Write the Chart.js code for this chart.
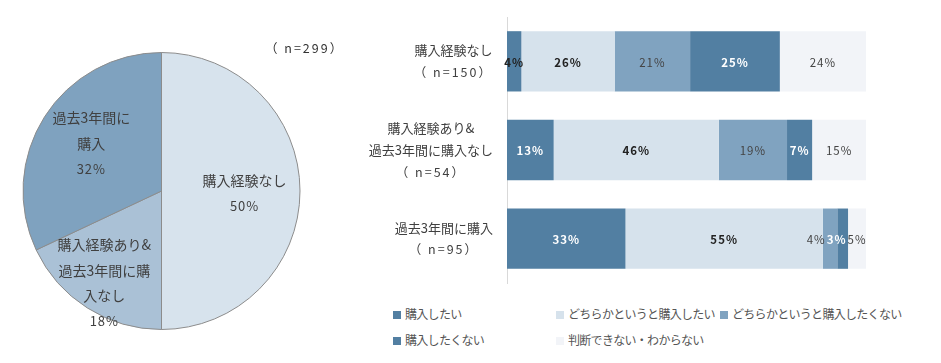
<!DOCTYPE html>
<html>
<head>
<meta charset="utf-8">
<script src="https://cdn.jsdelivr.net/npm/chart.js@4"></script>
<style>
  body { margin: 0; background: #fff; font-family: "Noto Sans CJK JP", sans-serif; }
  #wrap { position: relative; width: 941px; height: 363px; overflow: hidden; }
  #pie { position: absolute; left: 0; top: 0; }
  #bars { position: absolute; left: 360px; top: 0; }
  #total { position: absolute; left: 265px; top: 38px; font-size: 12.5px; color: #333; letter-spacing: 2px; }
  #legend { position: absolute; left: 393px; top: 305px; display: grid; grid-template-columns: 163px 164px 200px; row-gap: 8px; }
  #legend div { font-size: 12px; letter-spacing: -0.7px; color: #555; height: 18px; line-height: 18px; white-space: nowrap; }
  #legend span { display: inline-block; width: 8px; height: 8px; margin-right: 4px; vertical-align: 0px; }
</style>
</head>
<body>
<div id="wrap">
  <canvas id="pie" width="330" height="363"></canvas>
  <div id="total">（ n=299）</div>
  <canvas id="bars" width="581" height="300"></canvas>
  <div id="legend"></div>
</div>
<script>
// pie: all respondents
const pieCategories = ['購入経験なし', '購入経験あり&過去3年間に購入なし', '過去3年間に購入'];
const pieValues = [50, 18, 32];
const pieColors = ['#d7e3ed', '#aac1d6', '#7fa2bf'];

// bars: intention by group
const barCategories = [['購入経験なし'], ['購入経験あり&', '過去3年間に購入なし'], ['過去3年間に購入']];
const barN = [150, 54, 95];
const answerLabels = ['購入したい', 'どちらかというと購入したい', 'どちらかというと購入したくない', '購入したくない', '判断できない・わからない'];
const wantValues = [4, 13, 33];
const ratherWantValues = [26, 46, 55];
const ratherNotValues = [21, 19, 4];
const notWantValues = [25, 7, 3];
const unknownValues = [24, 15, 5];
const answerColors = ['#527fa2', '#d6e2ec', '#80a3c0', '#527fa2', '#f2f4f8'];

const jp = '"Noto Sans CJK JP", "Noto Sans", sans-serif';

function wrap(str, n) {
  if (!n) return [str];
  const out = [];
  for (let i = 0; i < str.length; i += n) out.push(str.slice(i, i + n));
  return out;
}

const pieLabelPlugin = {
  id: 'pieLabels',
  afterDatasetsDraw(chart) {
    const ctx = chart.ctx;
    const wraps = [0, 7, 6];
    const rf = [0.6, 0.77, 0.6];
    const dy = [2, 2, -3];
    const meta = chart.getDatasetMeta(0);
    ctx.save();
    ctx.fillStyle = '#404040';
    ctx.textAlign = 'center';
    ctx.textBaseline = 'middle';
    meta.data.forEach(function(arc, i) {
      const mid = (arc.startAngle + arc.endAngle) / 2;
      const r = arc.outerRadius * rf[i];
      const cx = arc.x + Math.cos(mid) * r;
      const cy = arc.y + Math.sin(mid) * r + dy[i];
      const lines = wrap(chart.data.labels[i], wraps[i]).concat(pieValues[i] + '%');
      const lh = 25.5;
      const y0 = cy - (lines.length - 1) * lh / 2;
      lines.forEach(function(t, k) {
        if (k == lines.length - 1) {
          ctx.font = '13px ' + jp;
          ctx.letterSpacing = '1px';
        } else {
          ctx.font = '14px ' + jp;
          ctx.letterSpacing = '0px';
        }
        ctx.fillText(t, cx, y0 + k * lh);
      });
    });
    ctx.restore();
  }
};

new Chart(document.getElementById('pie'), {
  type: 'pie',
  data: {
    labels: pieCategories,
    datasets: [{ data: pieValues, backgroundColor: pieColors, borderColor: '#8c8c8c', borderWidth: 1 }]
  },
  options: {
    responsive: false,
    animation: false,
    layout: { padding: { left: 22, right: 29, top: 52, bottom: 33 } },
    plugins: { legend: { display: false }, tooltip: { enabled: false } }
  },
  plugins: [pieLabelPlugin]
});

const barLabelPlugin = {
  id: 'barLabels',
  afterDatasetsDraw(chart) {
    const ctx = chart.ctx;
    const colors = ['#fff', '#222', '#444', '#fff', '#444'];
    const weights = ['bold', 'bold', 'normal', 'bold', 'normal'];
    const left = chart.chartArea.left;
    ctx.save();
    ctx.letterSpacing = '1px';
    ctx.textAlign = 'center';
    ctx.textBaseline = 'middle';
    for (let i = 0; i < chart.data.labels.length; i++) {
      const items = [];
      chart.data.datasets.forEach(function(ds, d) {
        const bar = chart.getDatasetMeta(d).data[i];
        const text = ds.data[i] + '%';
        ctx.font = weights[d] + ' 11.5px ' + jp;
        const w = ctx.measureText(text).width;
        items.push({ text: text, x: (bar.x + bar.base) / 2, y: bar.y, w: w, d: d });
      });
      // push crowded labels to the left
      for (let k = items.length - 2; k >= 0; k--) {
        const lim = items[k + 1].x - items[k + 1].w / 2 - 1;
        if (items[k].x + items[k].w / 2 > lim) items[k].x = lim - items[k].w / 2;
      }
      items.forEach(function(it) {
        ctx.font = weights[it.d] + ' 11.5px ' + jp;
        let c = colors[it.d];
        if (it.x - it.w / 2 < left) c = '#222';
        ctx.fillStyle = c;
        ctx.fillText(it.text, it.x, it.y + 1);
      });
    }

    // category labels: block right-aligned, lines centred in the block
    const ys = chart.scales.y;
    const right = ys.right - 14;
    const lh = 22;
    ctx.fillStyle = '#404040';
    chart.data.labels.forEach(function(lines, i) {
      const y = ys.getPixelForTick(i);
      let bw = 0;
      lines.forEach(function(t) {
        const nLine = t.indexOf('n=') >= 0;
        ctx.font = (nLine ? '12.5px ' : '13px ') + jp;
        ctx.letterSpacing = nLine ? '2px' : '0px';
        bw = Math.max(bw, ctx.measureText(t).width);
      });
      const y0 = y - (lines.length - 1) * lh / 2;
      lines.forEach(function(t, k) {
        const nLine = t.indexOf('n=') >= 0;
        ctx.font = (nLine ? '12.5px ' : '13px ') + jp;
        ctx.letterSpacing = nLine ? '2px' : '0px';
        ctx.fillText(t, right - bw / 2, y0 + k * lh);
      });
    });
    ctx.restore();
  }
};

const seriesValues = [wantValues, ratherWantValues, ratherNotValues, notWantValues, unknownValues];

const barChart = new Chart(document.getElementById('bars'), {
  type: 'bar',
  data: {
    labels: barCategories.map(function(c, i) { return c.concat('（ n=' + barN[i] + '）'); }),
    datasets: answerLabels.map(function(l, i) {
      return { label: l, data: seriesValues[i], backgroundColor: answerColors[i], barPercentage: 0.68, categoryPercentage: 1 };
    })
  },
  options: {
    indexAxis: 'y',
    responsive: false,
    animation: false,
    layout: { padding: { top: 17, bottom: 17, right: 75, left: 0 } },
    scales: {
      x: { stacked: true, min: 0, max: 100, display: false },
      y: {
        stacked: true,
        grid: { display: false },
        border: { display: true, color: '#d9d9d9', width: 1 },
        ticks: { display: false },
        afterFit(scale) {
          scale.width = 147;
          scale.paddingTop = 0;
          scale.paddingBottom = 0;
        }
      }
    },
    plugins: { legend: { display: false }, tooltip: { enabled: false } }
  },
  plugins: [barLabelPlugin]
});

const legendEl = document.getElementById('legend');
barChart.data.datasets.forEach(function(ds) {
  const item = document.createElement('div');
  item.innerHTML = '<span style="background:' + ds.backgroundColor + '"></span>' + ds.label;
  legendEl.appendChild(item);
});
</script>
</body>
</html>
